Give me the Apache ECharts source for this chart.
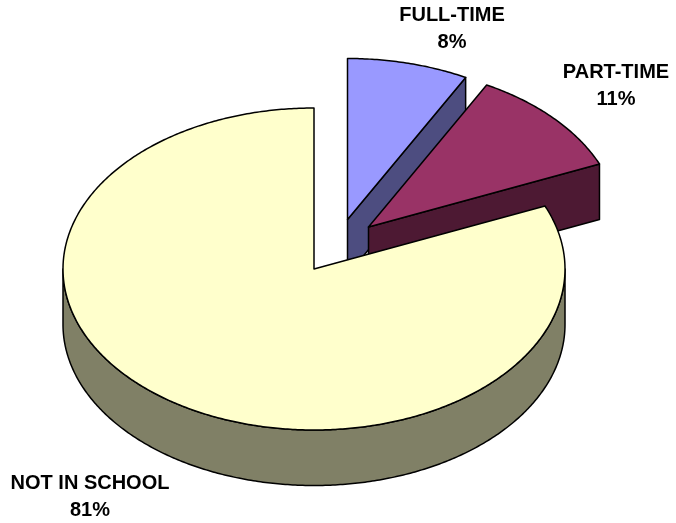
<!DOCTYPE html>
<html>
<head>
<meta charset="utf-8">
<style>html,body{margin:0;padding:0;background:#fff}#c{width:676px;height:523px}</style>
<script src="https://cdn.jsdelivr.net/npm/echarts@6/dist/echarts.min.js"></script>
</head>
<body>
<div id="c"></div>
<script>
// Data
const categories = ['FULL-TIME', 'PART-TIME', 'NOT IN SCHOOL'];
const shares = [7.8, 10.8, 81.4];
const shareLabels = ['8%', '11%', '81%'];

// Styling and geometry of the tilted pie
const topColors = ['#9999FF', '#993366', '#FFFFCC'];
const wallColors = ['#4D4D80', '#4D1933', '#808066'];
const explode = [[33.5, -49.5], [54.5, -42], [0, 0]];
const labelCenters = [[452, 28.5], [616, 86], [90, 496.5]];
const pie = { cx: 314, cy: 269, rx: 251, ry: 161, depth: 55.5 };

const total = shares.reduce((a, b) => a + b, 0);
const startOf = i => shares.slice(0, i).reduce((a, b) => a + b, 0) / total * 2 * Math.PI;
const rim = (c, t, dy) => [c[0] + pie.rx * Math.sin(t), c[1] - pie.ry * Math.cos(t) + (dy || 0)];

function arc(c, a, b, dy) {
  const pts = [];
  const n = Math.max(2, Math.ceil(Math.abs(b - a) / 0.01));
  for (let k = 0; k <= n; k++) pts.push(rim(c, a + (b - a) * k / n, dy));
  return pts;
}
const line = { stroke: '#000', lineWidth: 1.5, lineJoin: 'round' };

function renderItem(params, api) {
  const i = params.dataIndex;
  const a = startOf(i);
  const b = a + api.value(0) / total * 2 * Math.PI;
  const c = [pie.cx + explode[i][0], pie.cy + explode[i][1]];
  const children = [];
  const face = (points, fill) => children.push({
    type: 'polygon', shape: { points }, style: Object.assign({ fill }, line)
  });
  // Radial wall, seen when the slice's closing edge faces the viewer
  if (b < Math.PI) {
    const e = rim(c, b), e2 = rim(c, b, pie.depth);
    face([c, e, e2, [c[0], c[1] + pie.depth]], wallColors[i]);
  }
  // Outer curved wall on the front half of the ellipse
  const fa = Math.max(a, Math.PI / 2), fb = Math.min(b, 3 * Math.PI / 2);
  if (fb > fa) {
    face(arc(c, fa, fb, 0).concat(arc(c, fb, fa, pie.depth)), wallColors[i]);
  }
  // Top face
  face([c].concat(arc(c, a, b, 0)), topColors[i]);
  // Label
  children.push({
    type: 'text',
    style: {
      x: labelCenters[i][0], y: labelCenters[i][1],
      text: categories[i] + '\n' + shareLabels[i],
      fill: '#000', align: 'center', verticalAlign: 'middle',
      font: 'bold 20px "Liberation Sans", Arial, sans-serif', lineHeight: 27
    }
  });
  return { type: 'group', children };
}

const chart = echarts.init(document.getElementById('c'), null, { renderer: 'canvas' });
chart.setOption({
  animation: false,
  backgroundColor: '#fff',
  series: [{
    type: 'custom',
    coordinateSystem: 'none',
    renderItem,
    data: shares.map((v, i) => ({ name: categories[i], value: [v] })),
    silent: true
  }]
});
</script>
</body>
</html>
